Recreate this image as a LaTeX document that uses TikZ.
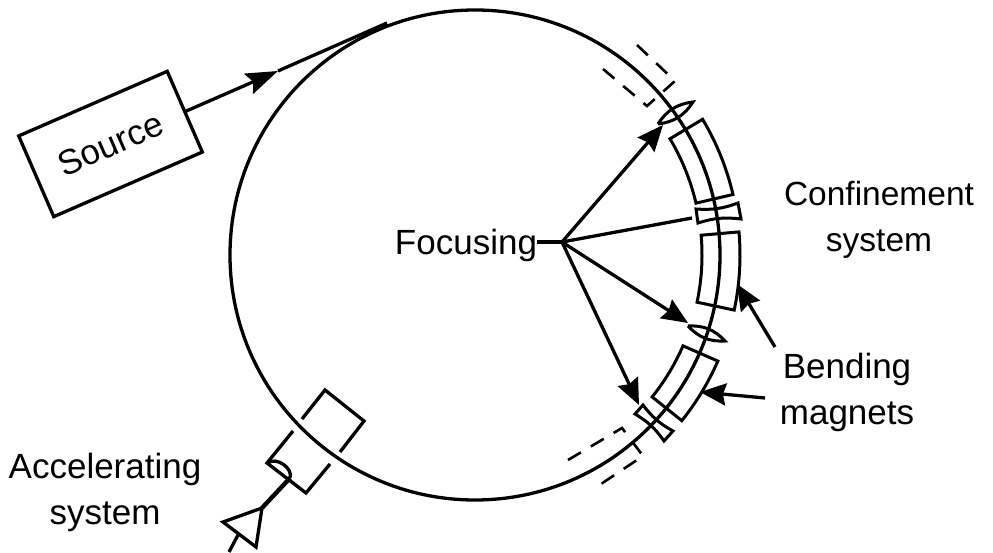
\documentclass[tikz,border=0pt]{standalone}
\usepackage{fontspec}
\setmainfont{Liberation Sans}
\usetikzlibrary{arrows.meta,positioning,calc}
\tikzset{
  partline/.style={line width=3.3pt,line join=miter},
  thinpart/.style={line width=3pt,line join=miter},
  dashpart/.style={line width=2.6pt,dash pattern=on 15pt off 11.5pt},
  labeltext/.style={font=\fontsize{35}{46}\selectfont,align=center,inner sep=0pt},
  bigtip/.style={-{Stealth[length=26pt,width=22pt,inset=3pt]}},
}
\begin{document}
\begin{tikzpicture}[x=1pt,y=1pt]
  \useasboundingbox (0,0) rectangle (993,552);
  \node[draw,partline,circle,minimum size=490pt,inner sep=0pt,outer sep=0pt] (ring) at (475,297) {};

  \node[draw,partline,labeltext,minimum width=162pt,minimum height=88pt,rotate=23.5,outer sep=0pt] (source) at (110.5,408) {Source};
  \coordinate (injtip) at (278,481);
  \coordinate (injend) at (387,529);
  \draw[partline,-{Stealth[length=32pt,width=22pt,inset=5pt]}] (source.east) -- (injtip);
  \draw[partline] (injtip) -- (injend);

  \foreach \lo/\hi in {13.2/30.8,-12/5,-38.7/-23.6}{
    \draw[thinpart,shift={(475,297)}] (\lo:227) arc[start angle=\lo,end angle=\hi,radius=227]
      -- (\hi:265) arc[start angle=\hi,end angle=\lo,radius=265] -- cycle;
  }

  \coordinate (lensa) at (658,428);
  \coordinate (lensb) at (693,450);
  \coordinate (lensc) at (688,226);
  \coordinate (lensd) at (725,211);
  \draw[thinpart] (lensa) to[bend left=25] (lensb) to[bend left=25] (lensa);
  \draw[thinpart] (lensc) to[bend left=25] (lensd) to[bend left=25] (lensc);

  \draw[thinpart] (696,343) to[bend right=12] (738,349) -- (741,333) to[bend right=12] (698,329) -- cycle;
  \draw[thinpart] (643,147) to[bend right=12] (673,121) -- (664,111) to[bend right=12] (635,138) -- cycle;

  \draw[dashpart] (637,507) -- (675,471) -- (647,446) -- (603,483);
  \draw[dashpart] (568,92) -- (622,124) -- (643,96) -- (601,68);

  \node[labeltext] (focusing) at (466,307) {Focusing};
  \coordinate (hub) at (562,310);
  \coordinate (focusa) at (663,427);
  \coordinate (focusb) at (692,334);
  \coordinate (focusc) at (688,229);
  \coordinate (focusd) at (639,147);
  \draw[partline] (focusing.east |- hub) -- (hub);
  \draw[partline,bigtip] (hub) -- (focusa);
  \draw[partline] (hub) -- (focusb);
  \draw[partline,bigtip] (hub) -- (focusc);
  \draw[partline,bigtip] (hub) -- (focusd);

  \node[labeltext,font=\fontsize{33.5}{46}\selectfont] (confinement) at (879,332) {Confinement\\system};
  \node[labeltext] (bending) at (847,160) {Bending\\magnets};
  \node[labeltext] (accelerating) at (105,60) {Accelerating\\system};

  \coordinate (benda) at (775,205);
  \coordinate (bendb) at (765,154);
  \coordinate (magneta) at (737,268);
  \coordinate (magnetb) at (700,160);
  \draw[partline,bigtip] (benda) -- (magneta);
  \draw[partline,bigtip] (bendb) -- (magnetb);

  \draw[partline] (302,133) -- (325,162) -- (364,131) -- (340,100);
  \draw[partline] (293,121) -- (267,89) -- (306,59) -- (330,88);
  \coordinate (feedtop) at (290,74);
  \coordinate (amptop) at (262,44);
  \coordinate (ampleft) at (223,30);
  \coordinate (ampright) at (256,5);
  \coordinate (ampout) at (238,17);
  \coordinate (feedend) at (229,0);
  \draw[partline] (268,89) to[bend left=75] (feedtop);
  \draw[line width=4.4pt] (feedtop) -- (amptop);
  \draw[partline] (amptop) -- (ampleft) -- (ampright) -- cycle;
  \draw[partline] (ampout) -- (feedend);
\end{tikzpicture}
\end{document}
